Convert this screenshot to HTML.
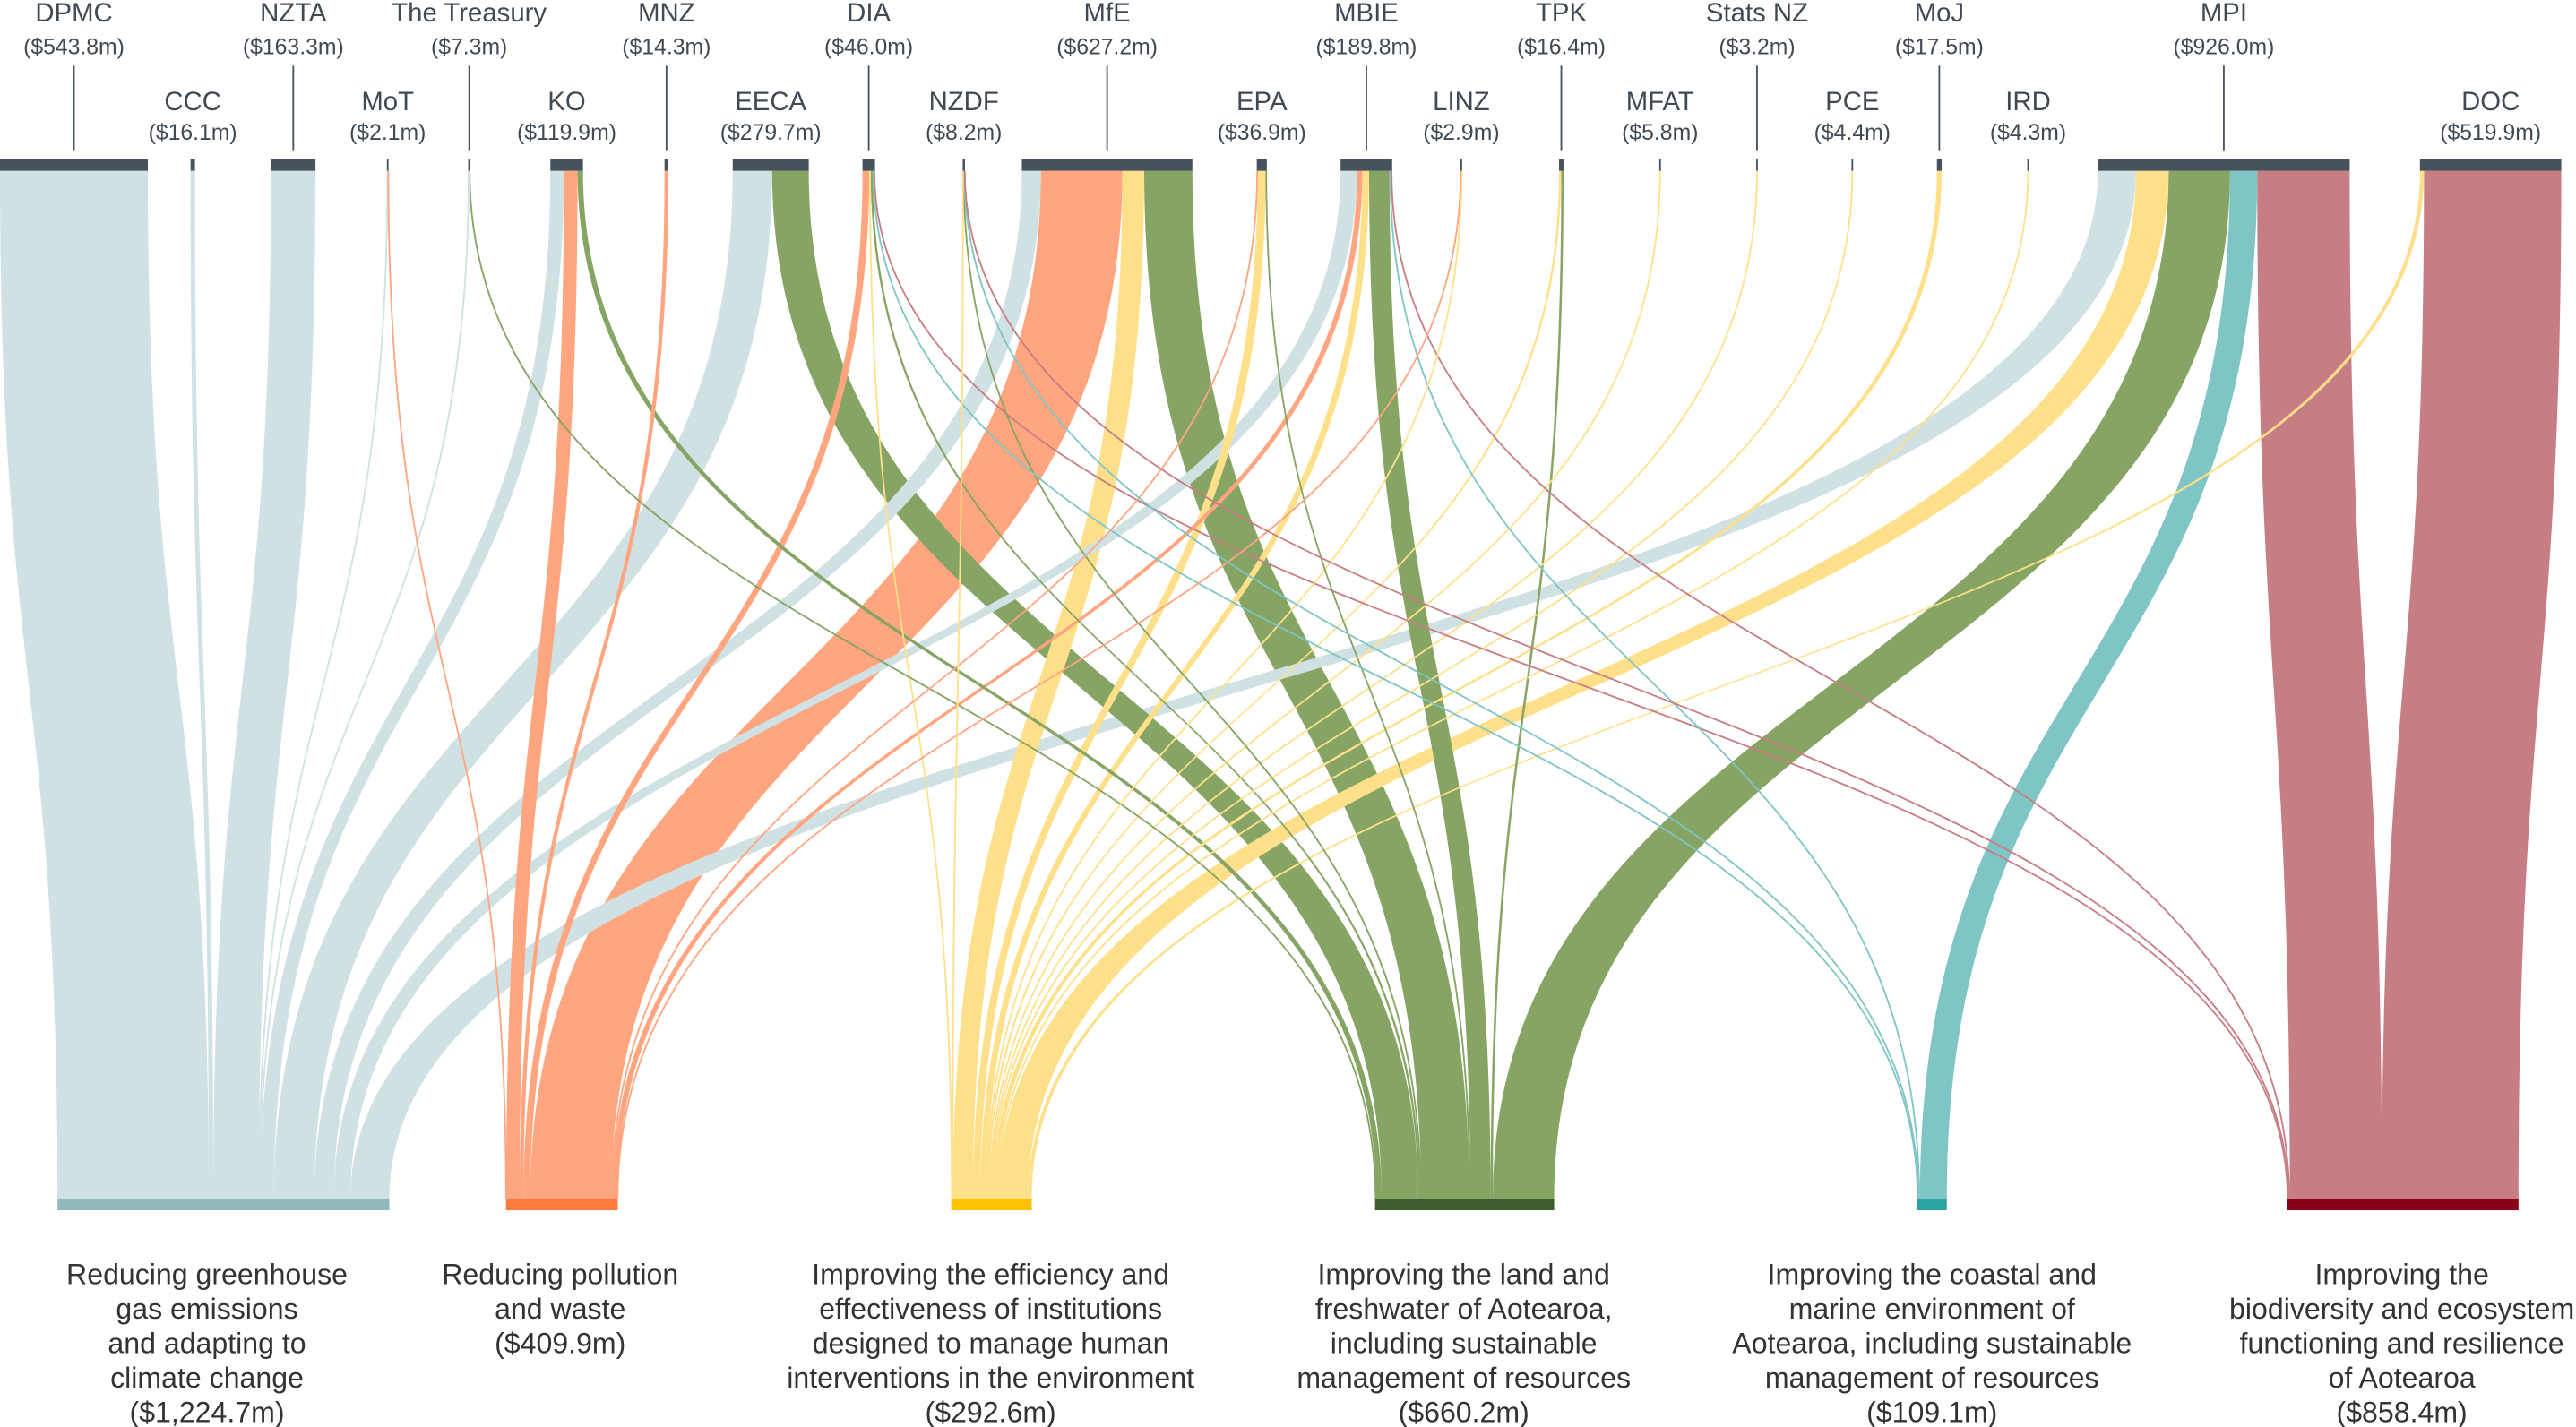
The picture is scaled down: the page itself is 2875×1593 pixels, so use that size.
<!DOCTYPE html>
<html><head><meta charset="utf-8"><style>
html,body{margin:0;padding:0;background:#fff;}
svg{display:block;}
text{font-family:"Liberation Sans",sans-serif;fill:#3f4a54;}
.n{font-size:16px;}
.v{font-size:13.5px;}
.b{font-size:17.5px;fill:#333;}
</style></head><body>
<svg id="s" width="2875" height="1593" viewBox="0 0 1568 869" preserveAspectRatio="none" xmlns="http://www.w3.org/2000/svg">
<g id="flows"></g>
<g id="bars"></g>
<g id="labels"></g>
<g>
<text class="b" text-anchor="middle" x="126" y="782">Reducing greenhouse</text>
<text class="b" text-anchor="middle" x="126" y="803">gas emissions</text>
<text class="b" text-anchor="middle" x="126" y="824">and adapting to</text>
<text class="b" text-anchor="middle" x="126" y="845">climate change</text>
<text class="b" text-anchor="middle" x="126" y="866">($1,224.7m)</text>
<text class="b" text-anchor="middle" x="341" y="782">Reducing pollution</text>
<text class="b" text-anchor="middle" x="341" y="803">and waste</text>
<text class="b" text-anchor="middle" x="341" y="824">($409.9m)</text>
<text class="b" text-anchor="middle" x="603" y="782">Improving the efficiency and</text>
<text class="b" text-anchor="middle" x="603" y="803">effectiveness of institutions</text>
<text class="b" text-anchor="middle" x="603" y="824">designed to manage human</text>
<text class="b" text-anchor="middle" x="603" y="845">interventions in the environment</text>
<text class="b" text-anchor="middle" x="603" y="866">($292.6m)</text>
<text class="b" text-anchor="middle" x="891" y="782">Improving the land and</text>
<text class="b" text-anchor="middle" x="891" y="803">freshwater of Aotearoa,</text>
<text class="b" text-anchor="middle" x="891" y="824">including sustainable</text>
<text class="b" text-anchor="middle" x="891" y="845">management of resources</text>
<text class="b" text-anchor="middle" x="891" y="866">($660.2m)</text>
<text class="b" text-anchor="middle" x="1176" y="782">Improving the coastal and</text>
<text class="b" text-anchor="middle" x="1176" y="803">marine environment of</text>
<text class="b" text-anchor="middle" x="1176" y="824">Aotearoa, including sustainable</text>
<text class="b" text-anchor="middle" x="1176" y="845">management of resources</text>
<text class="b" text-anchor="middle" x="1176" y="866">($109.1m)</text>
<text class="b" text-anchor="middle" x="1462" y="782">Improving the</text>
<text class="b" text-anchor="middle" x="1462" y="803">biodiversity and ecosystem</text>
<text class="b" text-anchor="middle" x="1462" y="824">functioning and resilience</text>
<text class="b" text-anchor="middle" x="1462" y="845">of Aotearoa</text>
<text class="b" text-anchor="middle" x="1462" y="866">($858.4m)</text>
</g>
</svg>
<script>
var NS="http://www.w3.org/2000/svg";
function el(t,a,p){var e=document.createElementNS(NS,t);for(var k in a)e.setAttribute(k,a[k]);document.getElementById(p).appendChild(e);return e;}
var T=[{x:35,w:202,bar:"#8fb9bc",c:"#d0e1e3"},{x:308,w:68,bar:"#ff7a3d",c:"#ffa57f"},{x:579,w:49,bar:"#ffc000",c:"#ffe08a"},
{x:837,w:109,bar:"#3e5e2e",c:"#86a463"},{x:1167,w:18,bar:"#2ba3a3",c:"#7fc5c6"},{x:1392,w:141,bar:"#8b0016",c:"#c77d84"}];
var S=[
["DPMC","$543.8m",0,1,[[0,543.8]]],
["CCC","$16.1m",116,2,[[0,16.1]]],
["NZTA","$163.3m",165,1,[[0,163.3]]],
["MoT","$2.1m",235.5,2,[[0,1.5],[1,0.6]]],
["The Treasury","$7.3m",285,1,[[0,3],[3,4.3]]],
["KO","$119.9m",335,2,[[0,50],[1,50],[3,20]]],
["MNZ","$14.3m",404.5,1,[[1,14.3]]],
["EECA","$279.7m",446,2,[[0,145],[3,134.7]]],
["DIA","$46.0m",525,1,[[1,25],[3,8],[4,3],[5,5],[2,5]]],
["NZDF","$8.2m",586,2,[[2,2],[3,3],[4,2],[5,1.2]]],
["MfE","$627.2m",622,1,[[0,70],[1,300],[2,80],[3,177.2]]],
["EPA","$36.9m",765,2,[[1,3],[2,30],[3,3.9]]],
["MBIE","$189.8m",816,1,[[0,60],[1,20],[2,25],[3,75],[4,5],[5,4.8]]],
["LINZ","$2.9m",889,2,[[1,1],[2,1.9]]],
["TPK","$16.4m",949,1,[[2,8],[3,8.4]]],
["MFAT","$5.8m",1010,2,[[2,5.8]]],
["Stats NZ","$3.2m",1069,1,[[2,3.2]]],
["PCE","$4.4m",1127,2,[[2,4.4]]],
["MoJ","$17.5m",1179,1,[[2,17.5]]],
["IRD","$4.3m",1234,2,[[2,4.3]]],
["MPI","$926.0m",1277,1,[[0,140],[2,120],[3,226],[4,100],[5,340]]],
["DOC","$519.9m",1473,2,[[2,15],[5,504.9]]]
];
var k=0.1655,Y0=104,Y1=730,YM=(Y0+Y1)/2;
var tsum=[0,0,0,0,0,0];
S.forEach(function(s){s[4].forEach(function(f){tsum[f[0]]+=f[1];});});
var tpos=T.map(function(t){return t.x;});
var flows=[];
S.forEach(function(s){
  var sx=s[2],tot=0;s[4].forEach(function(f){tot+=f[1];});
  var w=Math.max(tot*k,1);
  var order=s[4].slice().sort(function(a,b){return a[0]-b[0];});
  order.forEach(function(f){
    var fw=f[1]/tot*w, t=T[f[0]], bw=f[1]/tsum[f[0]]*t.w;
    var b0=tpos[f[0]];tpos[f[0]]+=bw;
    flows.push({x0:sx,x1:sx+fw,b0:b0,b1:b0+bw,c:t.c,w:fw});
    sx+=fw;
  });
  el("rect",{x:s[2],y:97,width:w,height:7,fill:"#47525c"},"bars");
  var cx=s[2]+w/2;
  if(s[3]==1){
    el("line",{x1:cx,y1:40,x2:cx,y2:92,stroke:"#47525c","stroke-width":1},"labels");
    var a=el("text",{x:cx,y:13,"text-anchor":"middle","class":"n"},"labels");a.textContent=s[0];
    var b=el("text",{x:cx,y:33,"text-anchor":"middle","class":"v"},"labels");b.textContent="("+s[1]+")";
  }else{
    var a=el("text",{x:cx,y:67,"text-anchor":"middle","class":"n"},"labels");a.textContent=s[0];
    var b=el("text",{x:cx,y:85,"text-anchor":"middle","class":"v"},"labels");b.textContent="("+s[1]+")";
  }
});
flows.sort(function(a,b){return b.w-a.w;});
flows.forEach(function(f){
  var d;
  if(f.x1-f.x0<1.2){
    var m=(f.x0+f.x1)/2,n=(f.b0+f.b1)/2;
    el("path",{d:"M"+m+" "+Y0+" C"+m+" "+YM+" "+n+" "+YM+" "+n+" "+Y1,fill:"none",stroke:f.c,"stroke-width":1},"flows");
  }else{
    d="M"+f.x0+" "+Y0+" C"+f.x0+" "+YM+" "+f.b0+" "+YM+" "+f.b0+" "+Y1+" L"+f.b1+" "+Y1+" C"+f.b1+" "+YM+" "+f.x1+" "+YM+" "+f.x1+" "+Y0+" Z";
    el("path",{d:d,fill:f.c},"flows");
  }
});
T.forEach(function(t){el("rect",{x:t.x,y:730,width:t.w,height:7,fill:t.bar},"bars");});
</script>
</body></html>
